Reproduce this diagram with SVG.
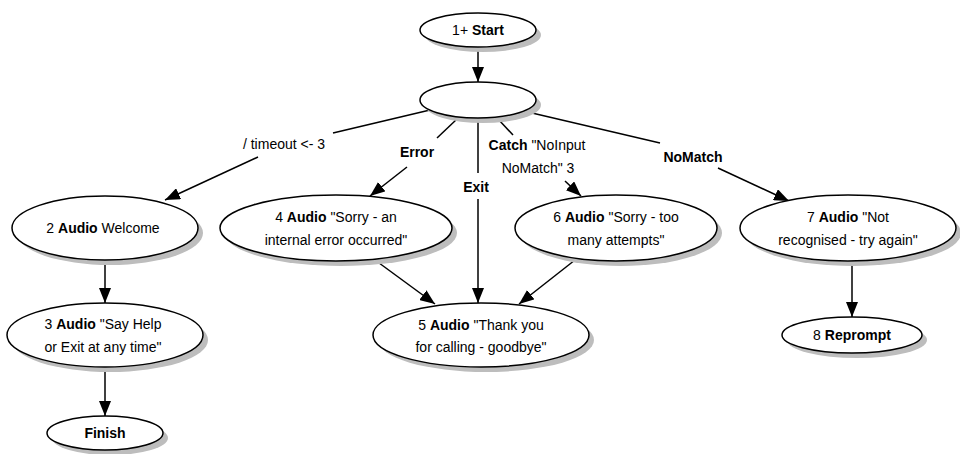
<svg xmlns="http://www.w3.org/2000/svg" width="960" height="454" viewBox="0 0 960 454">
<style>
.n ellipse.s{fill:#bdbdbd;stroke:none}
.n ellipse.f{fill:#fff;stroke:#000;stroke-width:1.5}
text{font-family:"Liberation Sans",Arial,sans-serif;font-size:14px;fill:#000;text-anchor:middle}
.b{font-weight:bold}
#edges line,#edges polyline{stroke:#000;stroke-width:1.5;fill:none}
</style>
<defs>
<marker id="ah" markerUnits="userSpaceOnUse" markerWidth="16" markerHeight="12" viewBox="0 0 16 12" refX="15" refY="6" orient="auto">
<path d="M0,0 L15,6 L0,12 Z" fill="#000"/>
</marker>
</defs>
<g id="edges">
<line x1="478" y1="47" x2="478" y2="82" marker-end="url(#ah)"/>
<line x1="430" y1="110" x2="333" y2="133"/>
<line x1="258" y1="157" x2="165" y2="200" marker-end="url(#ah)"/>
<line x1="457" y1="119" x2="437" y2="138"/>
<line x1="407" y1="167" x2="370" y2="196" marker-end="url(#ah)"/>
<line x1="478" y1="118" x2="478" y2="173"/>
<line x1="478" y1="199" x2="478" y2="303" marker-end="url(#ah)"/>
<line x1="498" y1="119" x2="513" y2="135"/>
<line x1="565" y1="181" x2="581" y2="196" marker-end="url(#ah)"/>
<line x1="532" y1="113" x2="660" y2="143"/>
<line x1="718" y1="168" x2="789" y2="201" marker-end="url(#ah)"/>
<line x1="105" y1="260" x2="105" y2="303" marker-end="url(#ah)"/>
<line x1="105" y1="367" x2="105" y2="416" marker-end="url(#ah)"/>
<line x1="852" y1="261" x2="852" y2="317" marker-end="url(#ah)"/>
<line x1="375" y1="260" x2="435" y2="304" marker-end="url(#ah)"/>
<line x1="575" y1="260" x2="519" y2="304" marker-end="url(#ah)"/>
<text x="284" y="149">/ timeout &lt;- 3</text>
<text x="417" y="157" class="b">Error</text>
<text x="476" y="192" class="b">Exit</text>
<text x="537" y="150"><tspan class="b">Catch</tspan> "NoInput</text>
<text x="538" y="173">NoMatch" 3</text>
<text x="693" y="162" class="b">NoMatch</text>
</g>
<g id="n1" class="n">
<ellipse class="s" cx="483" cy="35" rx="58" ry="17"/>
<ellipse class="f" cx="478" cy="30" rx="58" ry="17"/>
<text x="478" y="35">1+ <tspan class="b">Start</tspan></text>
</g>
<g id="hub" class="n">
<ellipse class="s" cx="483" cy="105" rx="58" ry="18"/>
<ellipse class="f" cx="478" cy="100" rx="58" ry="18"/>
</g>
<g id="n2" class="n">
<ellipse class="s" cx="110" cy="233" rx="93" ry="32"/>
<ellipse class="f" cx="105" cy="228" rx="93" ry="32"/>
<text x="103" y="233">2 <tspan class="b">Audio</tspan> Welcome</text>
</g>
<g id="n4" class="n">
<ellipse class="s" cx="341" cy="233" rx="116" ry="33"/>
<ellipse class="f" cx="336" cy="228" rx="116" ry="33"/>
<text x="336" y="222">4 <tspan class="b">Audio</tspan> "Sorry - an</text>
<text x="336" y="245">internal error occurred"</text>
</g>
<g id="n6" class="n">
<ellipse class="s" cx="621" cy="233" rx="101" ry="33"/>
<ellipse class="f" cx="616" cy="228" rx="101" ry="33"/>
<text x="616" y="222">6 <tspan class="b">Audio</tspan> "Sorry - too</text>
<text x="616" y="245">many attempts"</text>
</g>
<g id="n7" class="n">
<ellipse class="s" cx="853" cy="233" rx="108" ry="33"/>
<ellipse class="f" cx="848" cy="228" rx="108" ry="33"/>
<text x="848" y="222">7 <tspan class="b">Audio</tspan> "Not</text>
<text x="848" y="245">recognised - try again"</text>
</g>
<g id="n3" class="n">
<ellipse class="s" cx="110" cy="340" rx="98" ry="32"/>
<ellipse class="f" cx="105" cy="335" rx="98" ry="32"/>
<text x="103" y="329">3 <tspan class="b">Audio</tspan> "Say Help</text>
<text x="103" y="352">or Exit at any time"</text>
</g>
<g id="n5" class="n">
<ellipse class="s" cx="486" cy="340" rx="108" ry="32"/>
<ellipse class="f" cx="481" cy="335" rx="108" ry="32"/>
<text x="481" y="330">5 <tspan class="b">Audio</tspan> "Thank you</text>
<text x="481" y="352">for calling - goodbye"</text>
</g>
<g id="n8" class="n">
<ellipse class="s" cx="857" cy="340" rx="70" ry="18"/>
<ellipse class="f" cx="852" cy="335" rx="70" ry="18"/>
<text x="852" y="340">8 <tspan class="b">Reprompt</tspan></text>
</g>
<g id="finish" class="n">
<ellipse class="s" cx="110" cy="438" rx="58" ry="17"/>
<ellipse class="f" cx="105" cy="433" rx="58" ry="17"/>
<text x="105" y="438" class="b">Finish</text>
</g>
</svg>
